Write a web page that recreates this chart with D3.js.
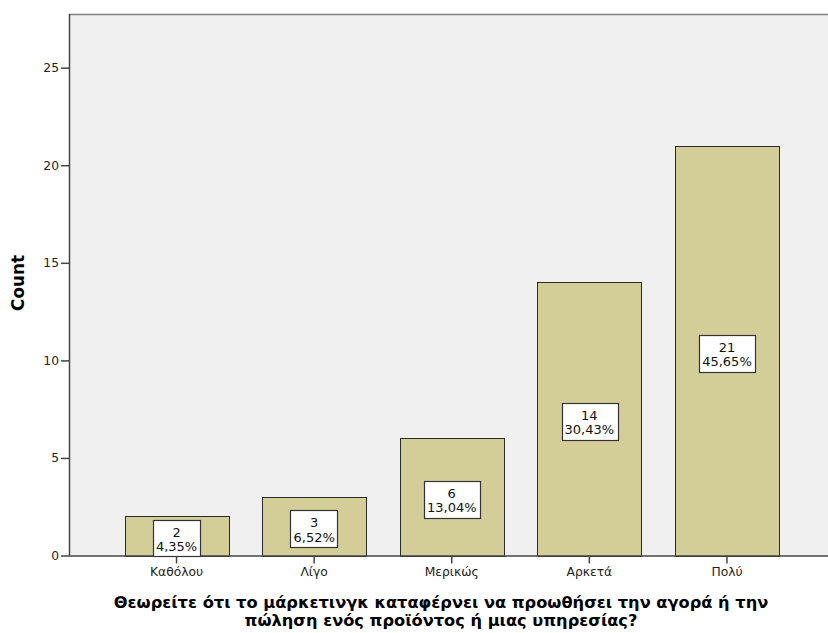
<!DOCTYPE html>
<html>
<head>
<meta charset="utf-8">
<script src="https://cdn.jsdelivr.net/npm/d3@7"></script>
<style>
  body { margin: 0; background: #fff; }
  svg { display: block; }
</style>
</head>
<body>
<svg id="chart" width="828" height="633"></svg>
<script>
// Response categories and counts
const categories = ["Καθόλου", "Λίγο", "Μερικώς", "Αρκετά", "Πολύ"];
const counts = [2, 3, 6, 14, 21];
const percents = ["4,35%", "6,52%", "13,04%", "30,43%", "45,65%"];
const yTicks = [0, 5, 10, 15, 20, 25];
const xTitleLines = [
  "Θεωρείτε ότι το μάρκετινγκ καταφέρνει να προωθήσει την αγορά ή την",
  "πώληση ενός προϊόντος ή μιας υπηρεσίας?"
];
const yTitle = "Count";

const FONT = "'DejaVu Sans', Verdana, sans-serif";
const svg = d3.select("#chart");
const plot = { left: 69, top: 14, right: 834.5, bottom: 555.5 };

const x = d3.scaleBand()
  .domain(categories)
  .range([plot.left, plot.right])
  .paddingInner(0.244)
  .paddingOuter(0.4035);

const y = d3.scaleLinear()
  .domain([0, 27.75])
  .range([plot.bottom, plot.top]);

// plot background
svg.append("rect")
  .attr("x", plot.left).attr("y", plot.top)
  .attr("width", plot.right - plot.left)
  .attr("height", plot.bottom - plot.top)
  .attr("fill", "#f0f0f0");

// top frame line
svg.append("line")
  .attr("x1", plot.left).attr("x2", plot.right)
  .attr("y1", plot.top + 0.5).attr("y2", plot.top + 0.5)
  .attr("stroke", "#7f7f7f").attr("stroke-width", 1.5);

// bars
svg.append("g").selectAll("rect")
  .data(counts)
  .join("rect")
  .attr("x", (d, i) => Math.round(x(categories[i])) + 0.5)
  .attr("y", d => Math.round(y(d)) + 0.5)
  .attr("width", Math.round(x.bandwidth()))
  .attr("height", d => Math.round(y(0)) - Math.round(y(d)))
  .attr("fill", "#d3ce98")
  .attr("stroke", "#2a2a2a")
  .attr("stroke-width", 1);

// y axis
const yAxis = d3.axisLeft(y).tickValues(yTicks).tickSize(8).tickPadding(2);
const gy = svg.append("g")
  .attr("transform", `translate(${plot.left},0)`)
  .call(yAxis);
gy.select(".domain").attr("stroke", "#444").attr("stroke-width", 1.5)
  .attr("d", `M0.5,${plot.top}V${plot.bottom}`);
gy.selectAll(".tick line").attr("stroke", "#444").attr("stroke-width", 1.5);
gy.selectAll(".tick text")
  .style("font-family", FONT)
  .style("font-size", "12.3px").attr("fill", "#222");

// x axis
const xAxis = d3.axisBottom(x).tickSize(8).tickPadding(4);
const gx = svg.append("g")
  .attr("transform", `translate(0,${plot.bottom})`)
  .call(xAxis);
gx.select(".domain").attr("stroke", "#444").attr("stroke-width", 1.5)
  .attr("d", `M${plot.left},0.5H${plot.right}`);
gx.selectAll(".tick line").attr("stroke", "#444").attr("stroke-width", 1.5);
gx.selectAll(".tick text")
  .style("font-family", FONT)
  .style("font-size", "12.3px").attr("fill", "#222");

// value labels: count and percentage in a white box at mid-height
const labels = svg.append("g");
counts.forEach((d, i) => {
  const cx = x(categories[i]) + x.bandwidth() / 2;
  const cy = y(d / 2) + 2.5;
  const g = labels.append("g");
  const box = g.append("rect");
  const t1 = g.append("text")
    .attr("x", cx).attr("y", cy - 1.5)
    .attr("text-anchor", "middle")
    .style("font-family", FONT).style("font-size", "13px")
    .attr("fill", "#111")
    .text(d);
  const t2 = g.append("text")
    .attr("x", cx).attr("y", cy + 13)
    .attr("text-anchor", "middle")
    .style("font-family", FONT).style("font-size", "13px")
    .attr("fill", "#111")
    .text(percents[i]);
  const w = Math.max(t1.node().getComputedTextLength(), t2.node().getComputedTextLength()) + 6;
  const h = 37;
  const top = cy - h / 2;
  box.attr("x", Math.round(cx - w / 2) + 0.5)
    .attr("y", Math.round(top) + 0.5)
    .attr("width", Math.round(w))
    .attr("height", Math.min(h, Math.round(y(0) - top)))
    .attr("fill", "#fff")
    .attr("stroke", "#333").attr("stroke-width", 1.2);
});

// axis titles
const yt = svg.append("text")
  .attr("transform", `translate(24,${283}) rotate(-90)`)
  .attr("text-anchor", "middle")
  .style("font-family", FONT).style("font-size", "14px")
  .attr("font-weight", "bold").attr("fill", "#000")
  .text(yTitle);
const ytLen = yt.node().getComputedTextLength();
yt.style("font-size", (14 * 56 / ytLen) + "px");

const xt = svg.append("text")
  .attr("text-anchor", "middle")
  .style("font-family", FONT).style("font-size", "14px")
  .attr("font-weight", "bold").attr("fill", "#000");
const spans = xTitleLines.map((line, i) =>
  xt.append("tspan")
    .attr("x", 441).attr("y", 608 + i * 17.5)
    .text(line));
const xtLen = spans[0].node().getComputedTextLength();
xt.style("font-size", (14 * 655 / xtLen) + "px");
</script>
</body>
</html>
